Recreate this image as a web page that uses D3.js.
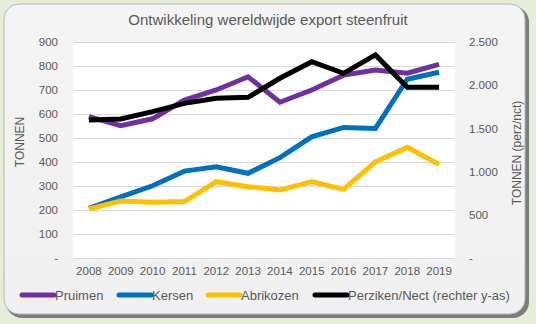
<!DOCTYPE html>
<html><head><meta charset="utf-8">
<script src="https://cdn.jsdelivr.net/npm/d3@7"></script>
<style>
html,body{margin:0;padding:0;background:#e6edd8;}
svg{display:block;font-family:"Liberation Sans",Arial,sans-serif;}
</style></head>
<body>
<svg id="c" width="536" height="324"></svg>
<script>
const years = ["2008","2009","2010","2011","2012","2013","2014","2015","2016","2017","2018","2019"];
const pruimen = [589,551,580,658,700,755,649,700,762,783,770,807];
const kersen = [207,255,301,362,380,353,418,505,544,540,745,774];
const abrikozen = [204,237,232,235,318,297,283,318,286,401,461,390];
const perziken = [1597,1609,1694,1790,1848,1860,2080,2272,2137,2350,1975,1975];
const leftTicks = [0,100,200,300,400,500,600,700,800,900];
const rightTicks = [0,500,1000,1500,2000,2500];
const seriesNames = ["Pruimen","Kersen","Abrikozen","Perziken/Nect (rechter y-as)"];
const colors = ["#7030a0","#0070c0","#ffc000","#000000"];

const svg = d3.select("#c");
const defs = svg.append("defs");
const g1 = defs.append("linearGradient").attr("id","card").attr("x1",0).attr("y1",0).attr("x2",0).attr("y2",1);
g1.append("stop").attr("offset","0").attr("stop-color","#f4f4f4");
g1.append("stop").attr("offset","1").attr("stop-color","#f0f0f0");

svg.append("rect").attr("x",6).attr("y",6).attr("width",523).attr("height",312).attr("rx",16)
  .attr("fill","#7d7d7d");
svg.append("rect").attr("x",4).attr("y",4).attr("width",521).attr("height",310).attr("rx",15)
  .attr("fill","url(#card)").attr("stroke","#b8b8b8").attr("stroke-width",1);

const m = {left:73, right:455, top:42, bottom:258};
const x = d3.scaleBand().domain(years).range([m.left,m.right]);
const yL = d3.scaleLinear().domain([0,900]).range([m.bottom,m.top]);
const yR = d3.scaleLinear().domain([0,2500]).range([m.bottom,m.top]);

svg.append("rect").attr("x",m.left).attr("y",m.top).attr("width",m.right-m.left).attr("height",m.bottom-m.top).attr("fill","#ffffff");

svg.append("g").selectAll("line").data(leftTicks).join("line")
  .attr("x1",m.left).attr("x2",m.right).attr("y1",d=>Math.round(yL(d))+0.5).attr("y2",d=>Math.round(yL(d))+0.5)
  .attr("stroke","#d9d9d9").attr("stroke-width",1);

const fmt = d => d===0 ? "-" : d3.format(",")(d).replace(/,/g,".");

const axL = svg.append("g").attr("transform",`translate(${m.left},0)`)
  .call(d3.axisLeft(yL).tickValues(leftTicks).tickFormat(fmt).tickSize(0).tickPadding(15));
axL.select(".domain").remove();
axL.selectAll("text").attr("fill","#595959").style("font-size","11.5px").style("font-family","Liberation Sans, Arial, sans-serif");

const axR = svg.append("g").attr("transform",`translate(${m.right},0)`)
  .call(d3.axisRight(yR).tickValues(rightTicks).tickFormat(fmt).tickSize(0).tickPadding(14));
axR.select(".domain").remove();
axR.selectAll("text").attr("fill","#595959").style("font-size","11.5px").style("font-family","Liberation Sans, Arial, sans-serif");

const axB = svg.append("g").attr("transform",`translate(0,${m.bottom})`)
  .call(d3.axisBottom(x).tickSize(0).tickPadding(9));
axB.select(".domain").remove();
axB.selectAll("text").attr("fill","#595959").style("font-size","11.5px").style("font-family","Liberation Sans, Arial, sans-serif");

svg.append("text").attr("x",268).attr("y",25).attr("text-anchor","middle").attr("fill","#595959")
  .style("font-size","15px").text("Ontwikkeling wereldwijde export steenfruit");
svg.append("text").attr("transform","translate(24,142) rotate(-90)").attr("text-anchor","middle").attr("fill","#595959")
  .style("font-size","12px").text("TONNEN");
svg.append("text").attr("transform","translate(521,153) rotate(-90)").attr("text-anchor","middle").attr("fill","#595959")
  .style("font-size","12px").text("TONNEN (perz/nct)");

const cx = d => x(d) + x.bandwidth()/2;
const data = [[pruimen,yL],[kersen,yL],[abrikozen,yL],[perziken,yR]];
data.forEach(([vals,sc],i)=>{
  const line = d3.line().x((v,j)=>cx(years[j])).y(v=>sc(v));
  svg.append("path").datum(vals).attr("d",line).attr("fill","none")
    .attr("stroke",colors[i]).attr("stroke-width",5).attr("stroke-linejoin","miter").attr("stroke-linecap","butt");
});

const legX = [22,119,208,315];
const lg = svg.append("g");
seriesNames.forEach((n,i)=>{
  lg.append("line").attr("x1",legX[i]).attr("x2",legX[i]+32).attr("y1",295).attr("y2",295)
    .attr("stroke",colors[i]).attr("stroke-width",5).attr("stroke-linecap","round");
  lg.append("text").attr("x",legX[i]+33).attr("y",300).attr("fill","#595959").style("font-size","13px").text(n);
});
</script>
</body></html>
